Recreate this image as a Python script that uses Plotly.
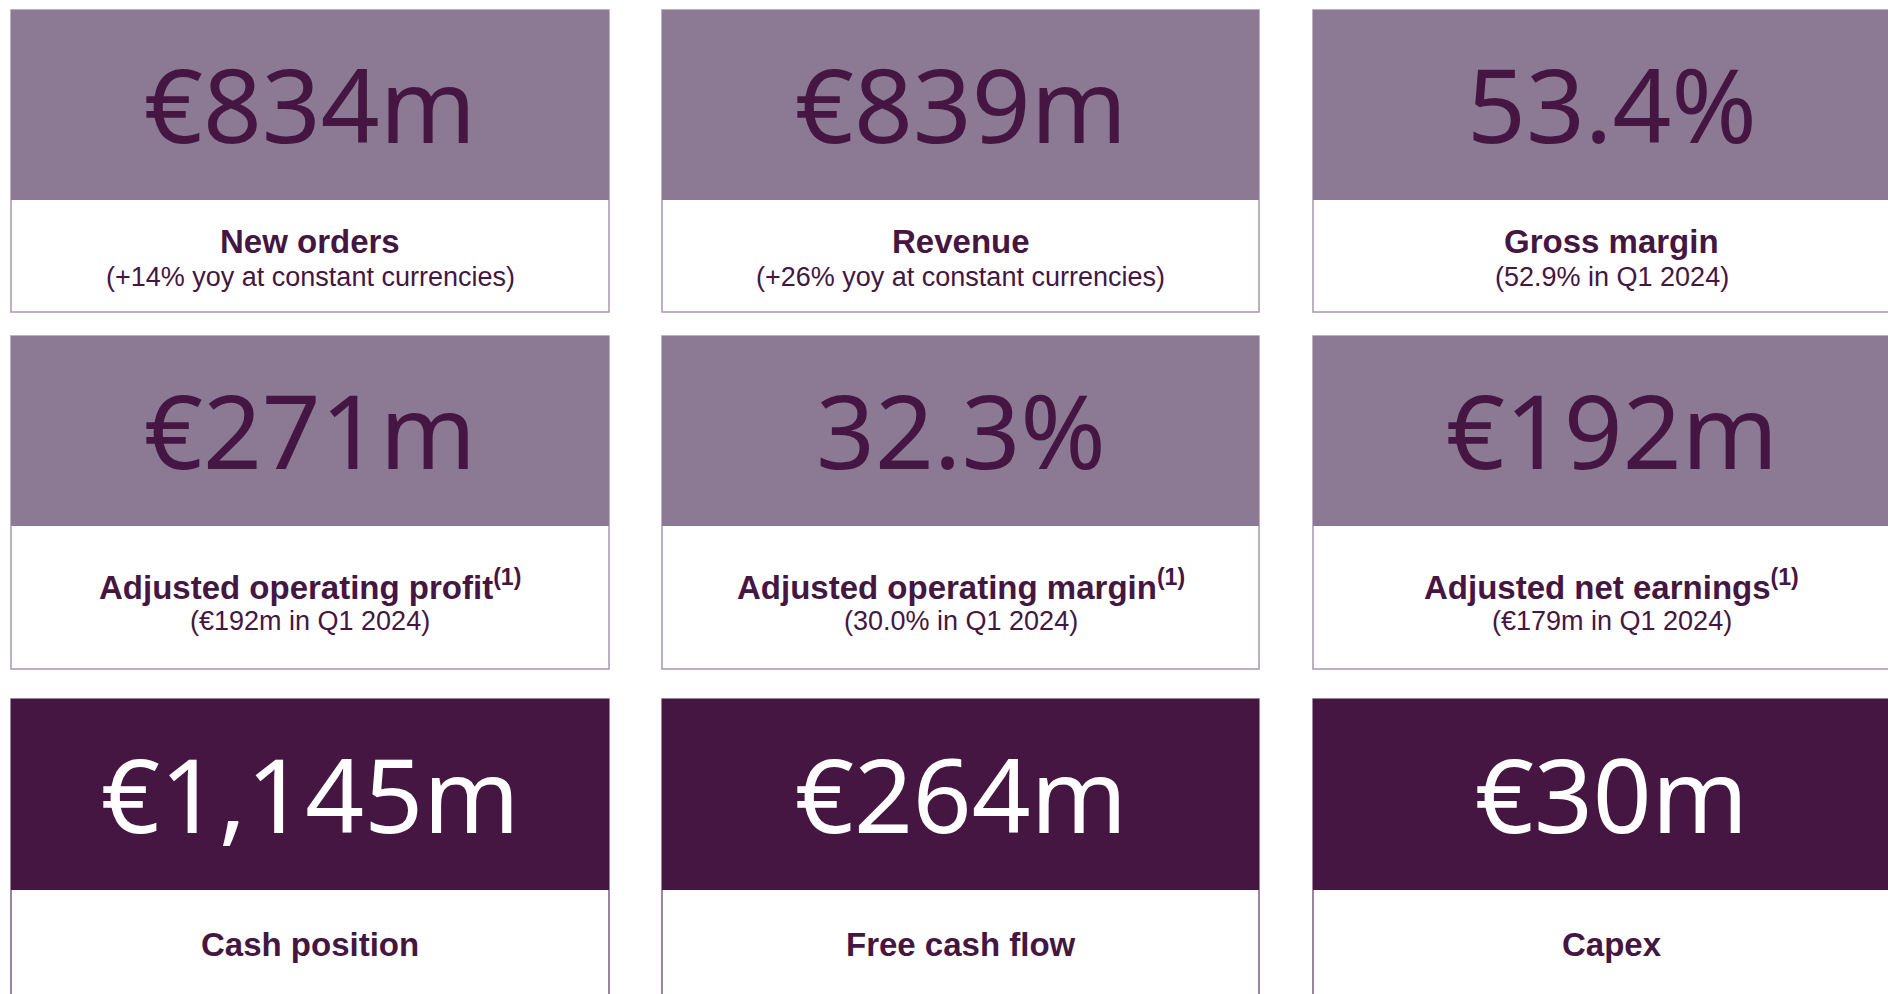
import plotly.graph_objects as go

# ---- data ----
kpi_values = ["€834m", "€839m", "53.4%",
              "€271m", "32.3%", "€192m",
              "€1,145m", "€264m", "€30m"]
kpi_labels = ["New orders", "Revenue", "Gross margin",
              "Adjusted operating profit<sup>(1)</sup>",
              "Adjusted operating margin<sup>(1)</sup>",
              "Adjusted net earnings<sup>(1)</sup>",
              "Cash position", "Free cash flow", "Capex"]
kpi_notes = ["(+14% yoy at constant currencies)",
             "(+26% yoy at constant currencies)",
             "(52.9% in Q1 2024)",
             "(€192m in Q1 2024)",
             "(30.0% in Q1 2024)",
             "(€179m in Q1 2024)",
             "", "", ""]

# ---- layout geometry (pixels) ----
W, H = 1888, 994
col_x = [(11, 609), (662, 1259), (1313, 1910)]
rows = [
    dict(top=10, split=200, bottom=312, fill="#8C7A95", num_color="#441641", border="#A995B0",
         label_y=241, note_y=277),
    dict(top=336, split=526, bottom=669, fill="#8C7A95", num_color="#441641", border="#A995B0",
         label_y=585, note_y=621),
    dict(top=699, split=890, bottom=1010, fill="#441641", num_color="#FFFFFF", border="#7A5C80",
         label_y=944, note_y=980),
]
TEXT = "#441641"

fig = go.Figure()
shapes, annotations = [], []
for i in range(9):
    r, c = divmod(i, 3)
    x0, x1 = col_x[c]
    rw = rows[r]
    xc = (x0 + x1) / 2
    shapes.append(dict(type="rect", xref="x", yref="y", x0=x0, x1=x1, y0=rw["top"], y1=rw["bottom"],
                       fillcolor="white", line=dict(color=rw["border"], width=1.5), layer="below"))
    shapes.append(dict(type="rect", xref="x", yref="y", x0=x0, x1=x1, y0=rw["top"], y1=rw["split"],
                       fillcolor=rw["fill"], line=dict(width=0), layer="below"))
    annotations.append(dict(x=xc, y=(rw["top"] + rw["split"]) / 2 - 2, xref="x", yref="y",
                            text=kpi_values[i], showarrow=False,
                            font=dict(family="Noto Sans", size=103, color=rw["num_color"]),
                            xanchor="center", yanchor="middle"))
    annotations.append(dict(x=xc, y=rw["label_y"], xref="x", yref="y", text="<b>" + kpi_labels[i] + "</b>",
                            showarrow=False, font=dict(family="Liberation Sans", size=33, color=TEXT),
                            xanchor="center", yanchor="middle"))
    if kpi_notes[i]:
        annotations.append(dict(x=xc, y=rw["note_y"], xref="x", yref="y", text=kpi_notes[i],
                                showarrow=False, font=dict(family="Liberation Sans", size=27, color=TEXT),
                                xanchor="center", yanchor="middle"))

fig.update_layout(
    width=W, height=H, margin=dict(l=0, r=0, t=0, b=0),
    paper_bgcolor="white", plot_bgcolor="white",
    xaxis=dict(range=[0, W], visible=False, fixedrange=True),
    yaxis=dict(range=[H, 0], visible=False, fixedrange=True),
    shapes=shapes, annotations=annotations, showlegend=False,
)
fig.write_html("out.html", config={"displayModeBar": False},
               post_script="document.body.style.margin='0';document.body.style.overflow='hidden';")
